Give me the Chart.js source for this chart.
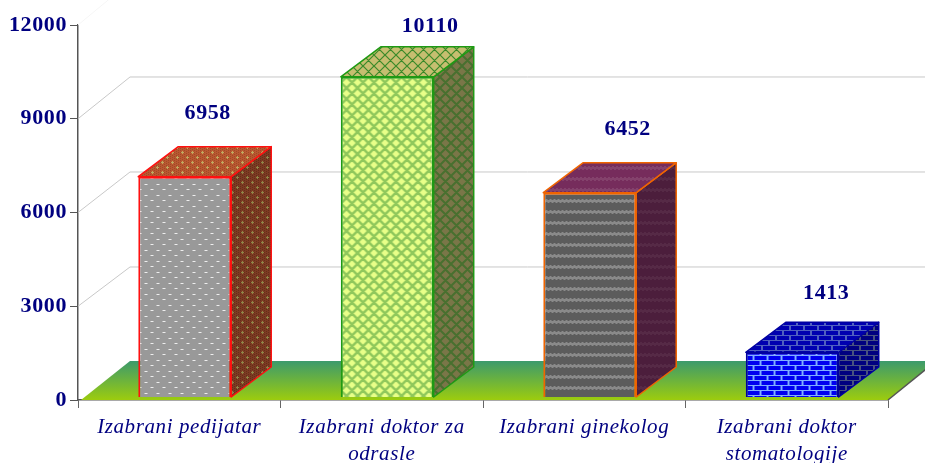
<!DOCTYPE html>
<html>
<head>
<meta charset="utf-8">
<style>
  html, body { margin: 0; padding: 0; background: #fff; overflow: hidden; }
</style>
<script src="https://cdn.jsdelivr.net/npm/chart.js@4"></script>
</head>
<body>
<canvas id="barChart" width="925" height="463"></canvas>
<script>
const categories = [
    ['Izabrani pedijatar'],
    ['Izabrani doktor za', 'odrasle'],
    ['Izabrani ginekolog'],
    ['Izabrani doktor', 'stomatologije']
];
const seriesValues = [6958, 10110, 6452, 1413];
const tickValues = [0, 3000, 6000, 9000, 12000];

// 3d look, all in px
const depthX = 40, depthY = 30;
const wallX = 52, wallDrop = 35;
const barShift = 5.5;
const labelShift = [[23, -33], [43, -21], [38, -33], [34, -29]];

const navy = '#000080';

function tile(w, h, base, paint) {
    const c = document.createElement('canvas');
    c.width = w;
    c.height = h;
    const g = c.getContext('2d');
    g.fillStyle = base;
    g.fillRect(0, 0, w, h);
    paint(g, w, h);
    return g.createPattern(c, 'repeat');
}

function dots(color) {
    return (g) => {
        g.fillStyle = color;
        g.fillRect(1, 2, 3, 1);
        g.fillRect(7, 8, 3, 1);
    };
}

function pluses(color, dither) {
    return (g, w, h) => {
        g.fillStyle = dither;
        for (let x = 0; x < w; x += 2) {
            for (let y = x % 4 ? 1 : 0; y < h; y += 2) g.fillRect(x, y, 1, 1);
        }
        g.fillStyle = color;
        [[2, 2], [7, 7]].forEach(([x, y]) => {
            g.fillRect(x - 1, y, 3, 1);
            g.fillRect(x, y - 1, 1, 3);
        });
    };
}

function lattice(color, width) {
    return (g, w, h) => {
        g.strokeStyle = color;
        g.lineWidth = width;
        g.beginPath();
        for (let i = -w; i <= w; i += w) {
            g.moveTo(i, 0);
            g.lineTo(i + w, h);
            g.moveTo(i + w, 0);
            g.lineTo(i, h);
        }
        g.stroke();
    };
}

function waves(color) {
    return (g, w) => {
        g.fillStyle = color;
        for (let x = 0; x < w; x++) {
            g.fillRect(x, 1 + (x % 4 < 2 ? 0 : 1), 1, 3);
        }
    };
}

function bricks(color) {
    return (g) => {
        g.fillStyle = color;
        g.fillRect(0, 1, 12, 4);
        g.fillRect(7, 6, 12, 4);
        g.fillRect(0, 6, 5, 4);
    };
}

const barLooks = [
    {
        border: '#ff1010',
        front: tile(12, 11, '#999999', dots('#eeeeee')),
        top: tile(10, 10, '#b85830', pluses('#c0a860', '#a04828')),
        side: tile(10, 10, '#7c3a22', pluses('#8f8448', '#642e1a'))
    },
    {
        border: '#1f9a14',
        front: tile(11, 11, '#e8ff88', lattice('#90c85c', 2.6)),
        top: tile(11, 11, '#c6be70', lattice('#3a8a2a', 1.2)),
        side: tile(11, 11, '#7a7648', lattice('#48702f', 2))
    },
    {
        border: '#f06400',
        front: tile(8, 11, '#5c5c5c', waves('#8a8a8a')),
        top: tile(8, 11, '#762c5c', waves('#84426c')),
        side: tile(8, 11, '#4c1e3c', waves('#562a46'))
    },
    {
        border: '#0000a0',
        front: tile(14, 10, '#80b0ff', bricks('#0000f0')),
        top: tile(14, 10, '#5060c0', bricks('#0000b0')),
        side: tile(14, 10, '#485280', bricks('#000080'))
    }
];

function poly(ctx, pts) {
    ctx.beginPath();
    pts.forEach((p, i) => i ? ctx.lineTo(p[0], p[1]) : ctx.moveTo(p[0], p[1]));
    ctx.closePath();
}

const scene3d = {
    id: 'scene3d',
    beforeDraw(chart) {
        chart.ctx.letterSpacing = '0.6px';
    },
    beforeDatasetsDraw(chart) {
        const ctx = chart.ctx;
        const area = chart.chartArea;
        const yAxis = chart.scales.y;
        const barAxis = chart.scales.barY;
        ctx.save();

        // back wall lines
        ctx.lineWidth = 1;
        tickValues.slice(1).forEach((v) => {
            const y0 = yAxis.getPixelForValue(v);
            const y1 = barAxis.getPixelForValue(v) - wallDrop;
            ctx.strokeStyle = v === 12000 ? '#f6f6f6' : '#c8c8c8';
            ctx.beginPath();
            ctx.moveTo(area.left, y0);
            ctx.lineTo(area.left + wallX, y1);
            ctx.lineTo(chart.width, y1);
            ctx.stroke();
        });

        // floor
        const floorBack = barAxis.getPixelForValue(0) - wallDrop - 1;
        const grad = ctx.createLinearGradient(0, floorBack, 0, area.bottom);
        grad.addColorStop(0, '#3c9a6c');
        grad.addColorStop(1, '#9ccc0e');
        ctx.fillStyle = grad;
        poly(ctx, [
            [area.left + 3, area.bottom],
            [area.left + wallX, floorBack],
            [area.right + 48, floorBack],
            [area.right, area.bottom]
        ]);
        ctx.fill();
        ctx.strokeStyle = '#555555';
        ctx.lineWidth = 1.5;
        ctx.beginPath();
        ctx.moveTo(area.right, area.bottom);
        ctx.lineTo(area.right + 48, floorBack);
        ctx.stroke();

        // top and side of every bar
        ctx.lineWidth = 1.5;
        ctx.lineJoin = 'round';
        chart.getDatasetMeta(0).data.forEach((el, i) => {
            const look = barLooks[i];
            const left = el.x - el.width / 2 + barShift;
            const right = el.x + el.width / 2 + barShift;
            ctx.strokeStyle = look.border;
            ctx.fillStyle = look.side;
            poly(ctx, [
                [right, el.y],
                [right + depthX, el.y - depthY],
                [right + depthX, el.base - depthY],
                [right, el.base]
            ]);
            ctx.fill();
            ctx.stroke();
            ctx.fillStyle = look.top;
            poly(ctx, [
                [left, el.y],
                [left + depthX, el.y - depthY],
                [right + depthX, el.y - depthY],
                [right, el.y]
            ]);
            ctx.fill();
            ctx.stroke();
        });
        ctx.restore();
    },
    beforeDatasetDraw(chart) {
        chart.ctx.save();
        chart.ctx.translate(barShift, 0);
    },
    afterDatasetDraw(chart) {
        chart.ctx.restore();
    },
    afterDatasetsDraw(chart) {
        const ctx = chart.ctx;
        ctx.save();
        ctx.font = 'bold 22px "Liberation Serif"';
        ctx.fillStyle = navy;
        ctx.textAlign = 'center';
        ctx.textBaseline = 'middle';
        chart.getDatasetMeta(0).data.forEach((el, i) => {
            ctx.fillText(String(seriesValues[i]),
                el.x + barShift + labelShift[i][0],
                el.y - depthY + labelShift[i][1]);
        });
        ctx.restore();
    }
};

new Chart(document.getElementById('barChart'), {
    type: 'bar',
    data: {
        labels: categories,
        datasets: [{
            data: seriesValues,
            yAxisID: 'barY',
            backgroundColor: barLooks.map((l) => l.front),
            borderColor: barLooks.map((l) => l.border),
            borderWidth: 2,
            categoryPercentage: 1,
            barPercentage: 0.459
        }]
    },
    options: {
        responsive: false,
        animation: false,
        layout: { padding: { top: 25, right: 37, left: 0, bottom: 0 } },
        plugins: {
            legend: { display: false },
            tooltip: { enabled: false }
        },
        scales: {
            x: {
                afterFit: (s) => { s.height = 63; },
                grid: { drawOnChartArea: false, tickLength: 8, color: '#666666' },
                border: { color: '#555555', width: 1.5 },
                ticks: {
                    color: navy,
                    padding: 6,
                    maxRotation: 0,
                    autoSkip: false,
                    font: { family: 'Liberation Serif', style: 'italic', size: 21, lineHeight: 1.3 }
                }
            },
            y: {
                min: 0,
                max: 12000,
                afterFit: (s) => { s.width = 78; },
                afterBuildTicks: (s) => { s.ticks = tickValues.map((v) => ({ value: v })); },
                grid: { drawOnChartArea: false, tickLength: 8, color: '#555555' },
                border: { color: '#555555', width: 1.5 },
                ticks: {
                    color: navy,
                    padding: 3,
                    callback: (v) => String(v),
                    font: { family: 'Liberation Serif', weight: 'bold', size: 22 }
                }
            },
            // bars stand a little in front of the axis plane and read slightly taller
            barY: {
                display: false,
                min: -95,
                max: 11747
            }
        }
    },
    plugins: [scene3d]
});
</script>
</body>
</html>
